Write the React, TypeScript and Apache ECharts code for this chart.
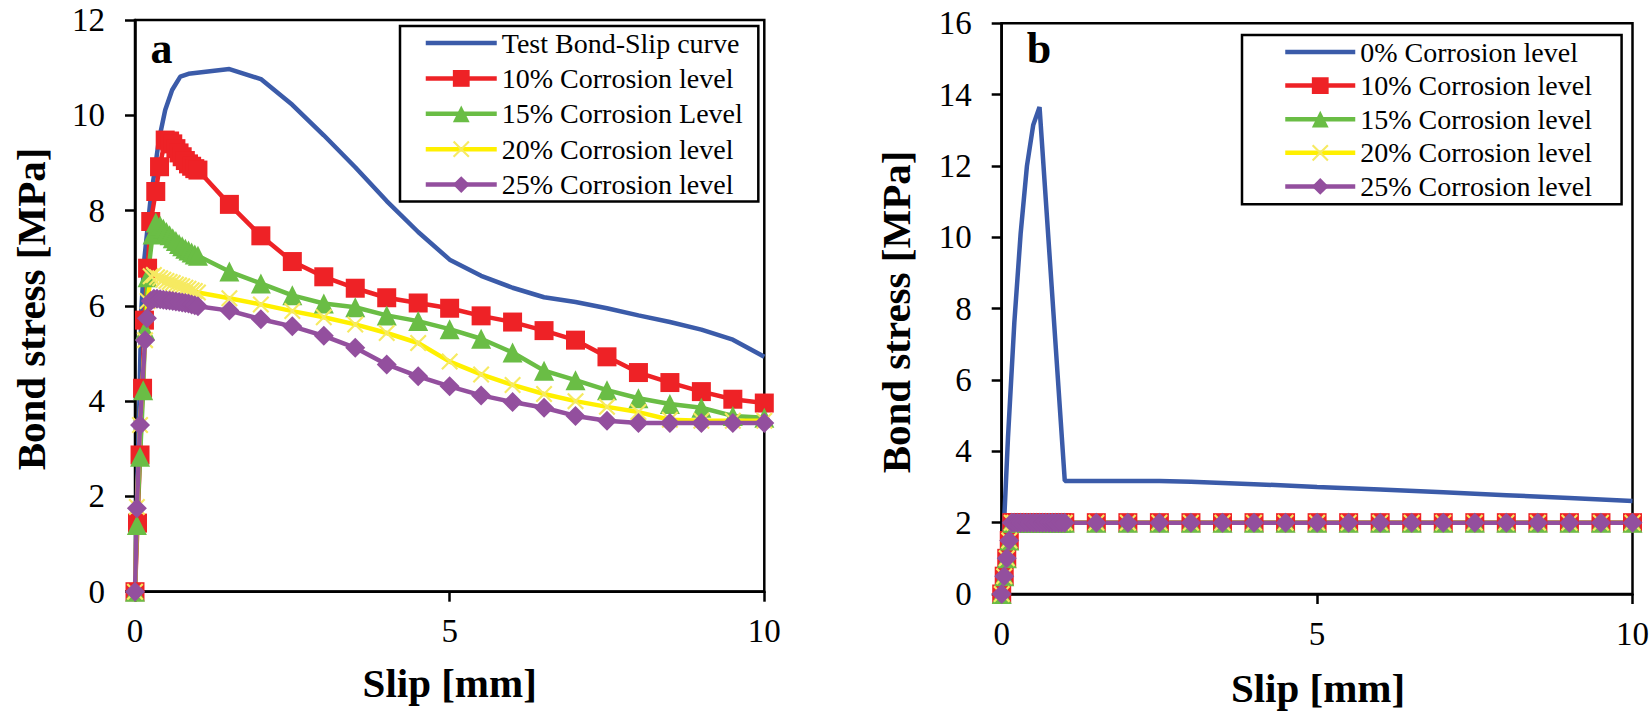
import React, { useEffect, useRef } from "react";
import * as echarts from "echarts";

// ---------- Panel a data ----------
const slipTestA = [0, 0.03, 0.07, 0.1, 0.15, 0.24, 0.38, 0.48, 0.59, 0.72, 0.85, 1.5, 2, 2.5, 3, 3.5, 4, 4.5, 5, 5.5, 6, 6.5, 7, 7.5, 8, 8.5, 9, 9.5, 10];
const stressTestA = [0, 1.9, 4.0, 5.9, 7.0, 8.15, 9.48, 10.11, 10.53, 10.81, 10.87, 10.97, 10.76, 10.22, 9.58, 8.91, 8.2, 7.55, 6.97, 6.63, 6.38, 6.18, 6.08, 5.95, 5.8, 5.66, 5.5, 5.29, 4.93];

const slip10A = [0, 0.04, 0.08, 0.12, 0.15, 0.2, 0.25, 0.33, 0.39, 0.48, 0.55, 0.6, 0.65, 0.7, 0.75, 0.8, 0.85, 0.9, 0.95, 1.0, 1.5, 2, 2.5, 3, 3.5, 4, 4.5, 5, 5.5, 6, 6.5, 7, 7.5, 8, 8.5, 9, 9.5, 10];
const stress10A = [0, 1.44, 2.87, 4.27, 5.7, 6.79, 7.77, 8.4, 8.92, 9.48, 9.46, 9.4, 9.3, 9.21, 9.13, 9.05, 8.98, 8.93, 8.88, 8.85, 8.13, 7.47, 6.93, 6.61, 6.37, 6.17, 6.06, 5.95, 5.79, 5.66, 5.48, 5.28, 4.93, 4.6, 4.39, 4.2, 4.04, 3.96];

const slip15A = [0, 0.03, 0.08, 0.13, 0.16, 0.2, 0.28, 0.33, 0.4, 0.45, 0.5, 0.55, 0.6, 0.65, 0.7, 0.75, 0.8, 0.85, 0.9, 0.95, 1.0, 1.5, 2, 2.5, 3, 3.5, 4, 4.5, 5, 5.5, 6, 6.5, 7, 7.5, 8, 8.5, 9, 9.5, 10];
const stress15A = [0, 1.4, 2.83, 4.23, 5.49, 6.6, 7.5, 7.75, 7.68, 7.62, 7.55, 7.48, 7.42, 7.36, 7.3, 7.25, 7.2, 7.16, 7.12, 7.08, 7.05, 6.72, 6.47, 6.22, 6.05, 5.97, 5.8, 5.68, 5.51, 5.31, 5.02, 4.64, 4.44, 4.23, 4.06, 3.94, 3.86, 3.69, 3.65];

const slip20A = [0, 0.03, 0.08, 0.16, 0.2, 0.25, 0.3, 0.35, 0.4, 0.45, 0.5, 0.55, 0.6, 0.65, 0.7, 0.75, 0.8, 0.85, 0.9, 0.95, 1.0, 1.5, 2, 2.5, 3, 3.5, 4, 4.5, 5, 5.5, 6, 6.5, 7, 7.5, 8, 8.5, 9, 9.5, 10];
const stress20A = [0, 1.78, 3.5, 5.28, 6.1, 6.62, 6.65, 6.6, 6.58, 6.55, 6.52, 6.5, 6.48, 6.45, 6.43, 6.41, 6.38, 6.36, 6.33, 6.31, 6.28, 6.16, 6.03, 5.89, 5.76, 5.61, 5.43, 5.22, 4.83, 4.56, 4.34, 4.15, 4.0, 3.88, 3.77, 3.61, 3.59, 3.59, 3.59];

const slip25A = [0, 0.03, 0.08, 0.16, 0.19, 0.25, 0.3, 0.35, 0.4, 0.45, 0.5, 0.55, 0.6, 0.65, 0.7, 0.75, 0.8, 0.85, 0.9, 0.95, 1.0, 1.5, 2, 2.5, 3, 3.5, 4, 4.5, 5, 5.5, 6, 6.5, 7, 7.5, 8, 8.5, 9, 9.5, 10];
const stress25A = [0, 1.75, 3.5, 5.28, 5.74, 6.1, 6.15, 6.15, 6.14, 6.13, 6.12, 6.11, 6.1, 6.09, 6.08, 6.07, 6.06, 6.05, 6.03, 6.01, 5.99, 5.9, 5.72, 5.57, 5.37, 5.12, 4.77, 4.52, 4.31, 4.12, 3.98, 3.86, 3.69, 3.59, 3.54, 3.54, 3.54, 3.54, 3.54];

// ---------- Panel b data ----------
const slip0B = [0, 0.04, 0.1, 0.2, 0.3, 0.4, 0.5, 0.6, 1.0, 2.5, 3, 4, 5, 6, 7, 8, 9, 10];
const stress0B = [0, 2.1, 4.4, 7.6, 10.1, 12.0, 13.15, 13.65, 3.17, 3.17, 3.15, 3.08, 3.0, 2.93, 2.85, 2.77, 2.69, 2.61];

const slipCorrB = [0, 0.04, 0.08, 0.12, 0.16, 0.2, 0.25, 0.3, 0.35, 0.4, 0.45, 0.5, 0.55, 0.6, 0.65, 0.7, 0.75, 0.8, 0.85, 0.9, 0.95, 1.0, 1.5, 2, 2.5, 3, 3.5, 4, 4.5, 5, 5.5, 6, 6.5, 7, 7.5, 8, 8.5, 9, 9.5, 10];
const stressCorrB = [0, 0.5, 1.0, 1.5, 2.0, 2, 2, 2, 2, 2, 2, 2, 2, 2, 2, 2, 2, 2, 2, 2, 2, 2, 2, 2, 2, 2, 2, 2, 2, 2, 2, 2, 2, 2, 2, 2, 2, 2, 2, 2];

// ---------- Names / ticks ----------
const namesA = ["Test Bond-Slip curve", "10% Corrosion level", "15% Corrosion Level", "20% Corrosion level", "25% Corrosion level"];
const namesB = ["0% Corrosion level", "10% Corrosion level", "15% Corrosion level", "20% Corrosion level", "25% Corrosion level"];
const xRange = [0, 10, 5];
const yRangeA = [0, 12, 2];
const yRangeB = [0, 16, 2];

const FONT = "'Liberation Serif', 'Times New Roman', serif";
const BLUE = "#3B5BA9";
const RED = "#EE2226";
const GREEN = "#6ABD45";
const YELLOW_LINE = "#FFF000";
const YELLOW_MARK = "#F6EA62";
const PURPLE = "#934F9E";
const CROSS = "path://M0,0.9 L0.9,0 L5,4.1 L9.1,0 L10,0.9 L5.9,5 L10,9.1 L9.1,10 L5,5.9 L0.9,10 L0,9.1 L4.1,5 Z";
const LINE_W = 4.5;

const pairs = (xs: number[], ys: number[]) => xs.map((x, i) => [x, ys[i]]);

function App() {
  const ref = useRef<HTMLDivElement>(null);
  useEffect(() => {
    if (!ref.current) return;
    const chart = echarts.init(ref.current, undefined, { renderer: "svg" });

    const axisCommon = {
      axisLine: { show: true, onZero: false, lineStyle: { color: "#000", width: 2.5 } },
      axisTick: { show: true, inside: false, length: 10, lineStyle: { color: "#000", width: 2.5 } },
      splitLine: { show: false },
    };
    const xLabel = { fontSize: 33, fontFamily: FONT, color: "#000", margin: 23 };
    const yLabel = { fontSize: 33, fontFamily: FONT, color: "#000", margin: 30 };

    const mk = (name: string, xs: number[], ys: number[], idx: number, color: string, symbol: string, size: number, markColor?: string) => ({
      type: "line",
      name,
      xAxisIndex: idx,
      yAxisIndex: idx,
      data: pairs(xs, ys),
      symbol,
      symbolSize: size,
      showSymbol: symbol !== "none",
      showAllSymbol: true,
      clip: false,
      lineStyle: { color, width: LINE_W },
      itemStyle: { color: markColor || color },
      emphasis: { disabled: true },
    });

    const series = [
      mk(namesA[0], slipTestA, stressTestA, 0, BLUE, "none", 0, "rgba(0,0,0,0)"),
      mk(namesA[1], slip10A, stress10A, 0, RED, "rect", 19),
      mk(namesA[2], slip15A, stress15A, 0, GREEN, "triangle", 20),
      mk(namesA[3], slip20A, stress20A, 0, YELLOW_LINE, CROSS, 17, YELLOW_MARK),
      mk(namesA[4], slip25A, stress25A, 0, PURPLE, "diamond", 20),
      mk(namesB[0], slip0B, stress0B, 1, BLUE, "none", 0, "rgba(0,0,0,0)"),
      mk(namesB[1], slipCorrB, stressCorrB, 1, RED, "rect", 19),
      mk(namesB[2], slipCorrB, stressCorrB, 1, GREEN, "triangle", 20),
      mk(namesB[3], slipCorrB, stressCorrB, 1, YELLOW_LINE, CROSS, 17, YELLOW_MARK),
      mk(namesB[4], slipCorrB, stressCorrB, 1, PURPLE, "diamond", 20),
    ];

    const legendCommon = {
      orient: "vertical",
      itemHeight: 21,
      selectedMode: false,
      borderColor: "#000",
      borderWidth: 2.5,
      backgroundColor: "#fff",
      textStyle: { fontSize: 28, fontFamily: FONT, color: "#000" },
      lineStyle: { width: LINE_W },
    };

    const titleStyle = (text: string) => ({
      text,
      fontSize: 41,
      fontWeight: "bold",
      fontFamily: FONT,
      fill: "#000",
      align: "center",
      verticalAlign: "middle",
      textAlign: "center",
      textVerticalAlign: "middle",
    });

    chart.setOption({
      animation: false,
      backgroundColor: "#fff",
      grid: [
        { left: 135, top: 20, width: 629.3, height: 571.7, show: true, borderColor: "#000", borderWidth: 2.5, containLabel: false },
        { left: 1001.7, top: 23.3, width: 632.3, height: 570.7, show: true, borderColor: "#000", borderWidth: 2.5, containLabel: false },
      ],
      xAxis: [
        { gridIndex: 0, type: "value", min: xRange[0], max: xRange[1], interval: xRange[2], axisLabel: xLabel, ...axisCommon },
        { gridIndex: 1, type: "value", min: xRange[0], max: xRange[1], interval: xRange[2], axisLabel: xLabel, ...axisCommon },
      ],
      yAxis: [
        { gridIndex: 0, type: "value", min: yRangeA[0], max: yRangeA[1], interval: yRangeA[2], axisLabel: yLabel, ...axisCommon },
        { gridIndex: 1, type: "value", min: yRangeB[0], max: yRangeB[1], interval: yRangeB[2], axisLabel: yLabel, ...axisCommon },
      ],
      legend: [
        {
          ...legendCommon,
          left: 400,
          top: 26,
          itemWidth: 71,
          itemGap: 7.4,
          itemTextGap: 6,
          padding: [3, 15.5, 3, 23.5],
          data: namesA,
        },
        {
          ...legendCommon,
          left: 1242,
          top: 35,
          itemWidth: 70,
          itemGap: 5.6,
          itemTextGap: 7,
          padding: [3, 29.6, 3.8, 41],
          data: namesB,
        },
      ],
      graphic: [
        { type: "text", x: 161.5, y: 48.5, style: { ...titleStyle("a"), fontSize: 44 } },
        { type: "text", x: 1039, y: 48.5, style: { ...titleStyle("b"), fontSize: 44 } },
        { type: "text", x: 449.7, y: 683, style: titleStyle("Slip [mm]") },
        { type: "text", x: 1318, y: 688, style: titleStyle("Slip [mm]") },
        { type: "text", x: 31, y: 309, rotation: Math.PI / 2, style: titleStyle("Bond stress [MPa]") },
        { type: "text", x: 896, y: 312, rotation: Math.PI / 2, style: titleStyle("Bond stress [MPa]") },
      ],
      series,
    });

    return () => chart.dispose();
  }, []);

  return (
    <div
      ref={ref}
      style={{ position: "fixed", left: 0, top: 0, width: 1652, height: 712, background: "#fff" }}
    />
  );
}

export default App;
